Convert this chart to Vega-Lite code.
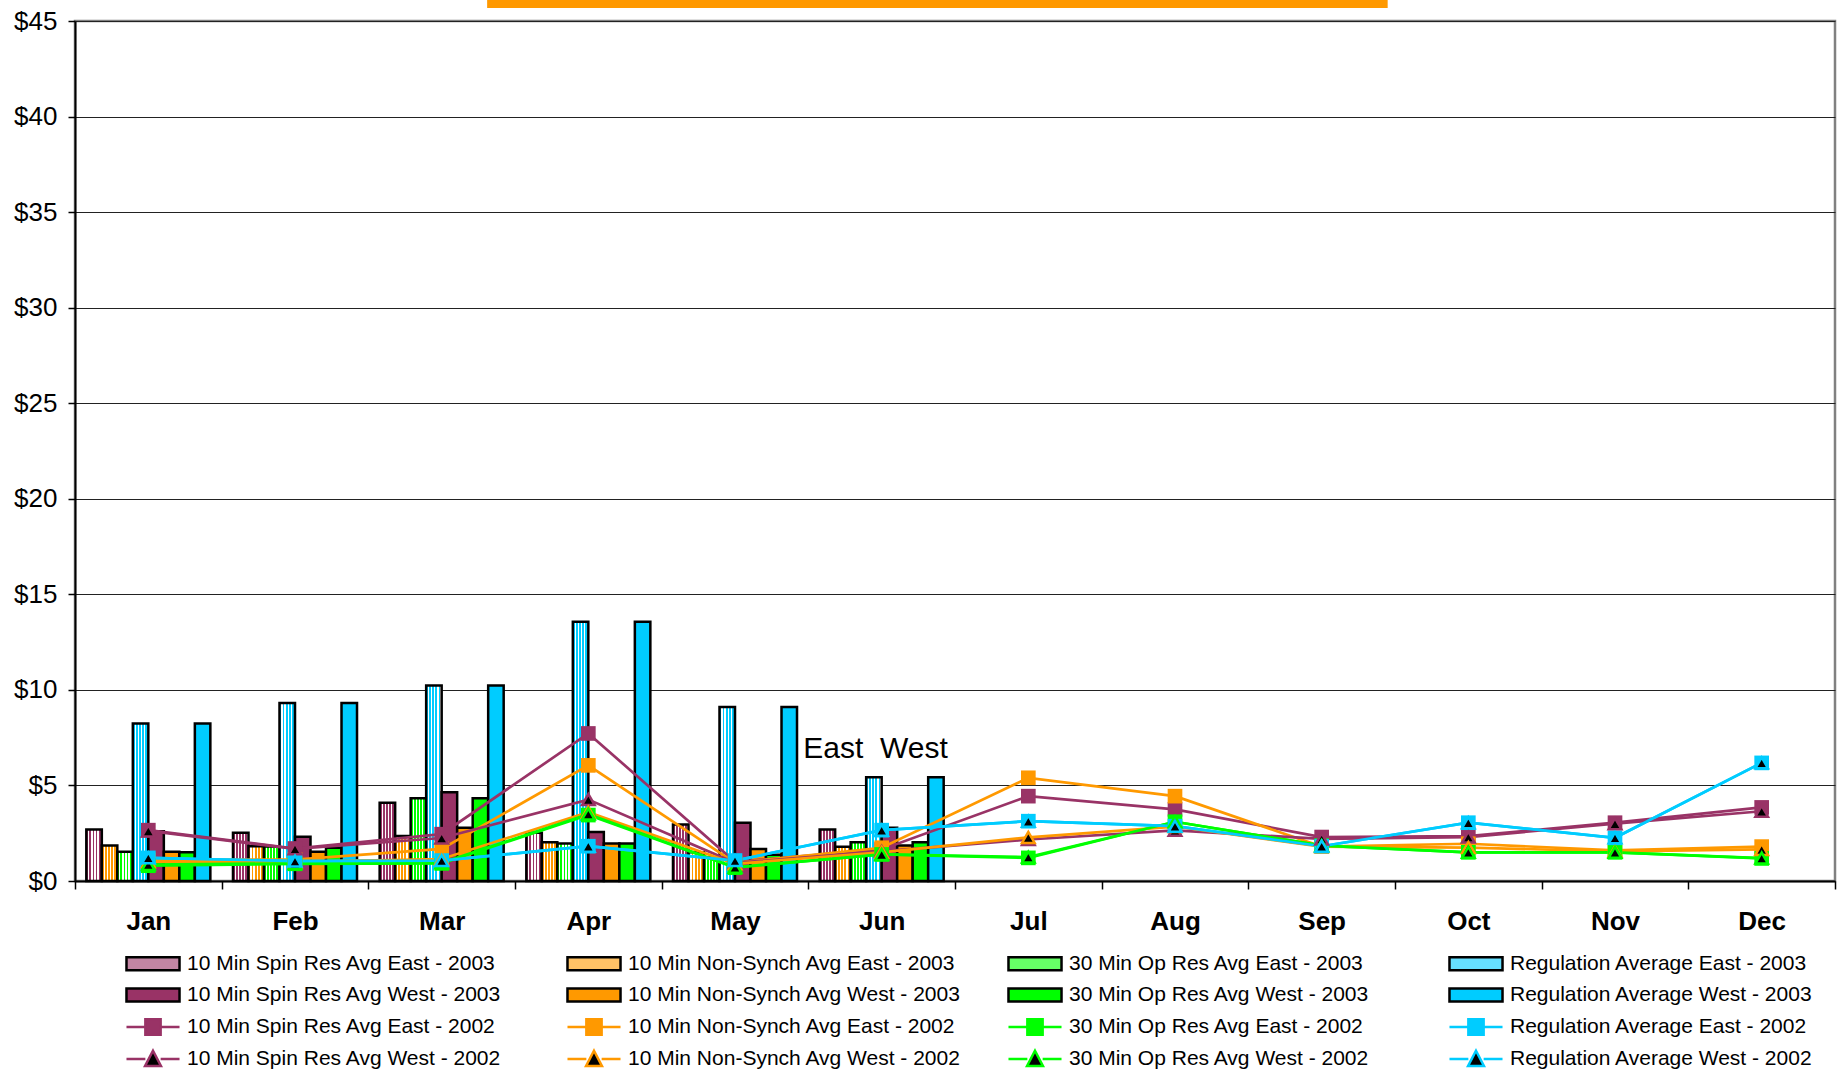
{
  "$schema": "https://vega.github.io/schema/vega-lite/v6.json",
  "width": 1760,
  "height": 860,
  "autosize": {"type": "none"},
  "padding": {"left": 75, "top": 21, "right": 4, "bottom": 188},
  "background": "white",
  "config": {
    "font": "Liberation Sans",
    "view": {"stroke": "#808080", "strokeWidth": 2.5}
  },
  "data": {"values": [
    {"month": "Jan", "series": "10 Min Spin Res Avg East - 2003", "year": 2003, "value": 2.70},
    {"month": "Feb", "series": "10 Min Spin Res Avg East - 2003", "year": 2003, "value": 2.52},
    {"month": "Mar", "series": "10 Min Spin Res Avg East - 2003", "year": 2003, "value": 4.09},
    {"month": "Apr", "series": "10 Min Spin Res Avg East - 2003", "year": 2003, "value": 2.52},
    {"month": "May", "series": "10 Min Spin Res Avg East - 2003", "year": 2003, "value": 2.96},
    {"month": "Jun", "series": "10 Min Spin Res Avg East - 2003", "year": 2003, "value": 2.70},
    {"month": "Jan", "series": "10 Min Non-Synch Avg East - 2003", "year": 2003, "value": 1.86},
    {"month": "Feb", "series": "10 Min Non-Synch Avg East - 2003", "year": 2003, "value": 1.82},
    {"month": "Mar", "series": "10 Min Non-Synch Avg East - 2003", "year": 2003, "value": 2.35},
    {"month": "Apr", "series": "10 Min Non-Synch Avg East - 2003", "year": 2003, "value": 2.03},
    {"month": "May", "series": "10 Min Non-Synch Avg East - 2003", "year": 2003, "value": 1.50},
    {"month": "Jun", "series": "10 Min Non-Synch Avg East - 2003", "year": 2003, "value": 1.79},
    {"month": "Jan", "series": "30 Min Op Res Avg East - 2003", "year": 2003, "value": 1.53},
    {"month": "Feb", "series": "30 Min Op Res Avg East - 2003", "year": 2003, "value": 1.80},
    {"month": "Mar", "series": "30 Min Op Res Avg East - 2003", "year": 2003, "value": 4.33},
    {"month": "Apr", "series": "30 Min Op Res Avg East - 2003", "year": 2003, "value": 1.96},
    {"month": "May", "series": "30 Min Op Res Avg East - 2003", "year": 2003, "value": 1.23},
    {"month": "Jun", "series": "30 Min Op Res Avg East - 2003", "year": 2003, "value": 2.03},
    {"month": "Jan", "series": "Regulation Average East - 2003", "year": 2003, "value": 8.24},
    {"month": "Feb", "series": "Regulation Average East - 2003", "year": 2003, "value": 9.32},
    {"month": "Mar", "series": "Regulation Average East - 2003", "year": 2003, "value": 10.23},
    {"month": "Apr", "series": "Regulation Average East - 2003", "year": 2003, "value": 13.56},
    {"month": "May", "series": "Regulation Average East - 2003", "year": 2003, "value": 9.10},
    {"month": "Jun", "series": "Regulation Average East - 2003", "year": 2003, "value": 5.43},
    {"month": "Jan", "series": "10 Min Spin Res Avg West - 2003", "year": 2003, "value": 2.60},
    {"month": "Feb", "series": "10 Min Spin Res Avg West - 2003", "year": 2003, "value": 2.31},
    {"month": "Mar", "series": "10 Min Spin Res Avg West - 2003", "year": 2003, "value": 4.65},
    {"month": "Apr", "series": "10 Min Spin Res Avg West - 2003", "year": 2003, "value": 2.57},
    {"month": "May", "series": "10 Min Spin Res Avg West - 2003", "year": 2003, "value": 3.05},
    {"month": "Jun", "series": "10 Min Spin Res Avg West - 2003", "year": 2003, "value": 2.78},
    {"month": "Jan", "series": "10 Min Non-Synch Avg West - 2003", "year": 2003, "value": 1.53},
    {"month": "Feb", "series": "10 Min Non-Synch Avg West - 2003", "year": 2003, "value": 1.53},
    {"month": "Mar", "series": "10 Min Non-Synch Avg West - 2003", "year": 2003, "value": 2.78},
    {"month": "Apr", "series": "10 Min Non-Synch Avg West - 2003", "year": 2003, "value": 1.96},
    {"month": "May", "series": "10 Min Non-Synch Avg West - 2003", "year": 2003, "value": 1.68},
    {"month": "Jun", "series": "10 Min Non-Synch Avg West - 2003", "year": 2003, "value": 1.86},
    {"month": "Jan", "series": "30 Min Op Res Avg West - 2003", "year": 2003, "value": 1.50},
    {"month": "Feb", "series": "30 Min Op Res Avg West - 2003", "year": 2003, "value": 1.74},
    {"month": "Mar", "series": "30 Min Op Res Avg West - 2003", "year": 2003, "value": 4.33},
    {"month": "Apr", "series": "30 Min Op Res Avg West - 2003", "year": 2003, "value": 1.96},
    {"month": "May", "series": "30 Min Op Res Avg West - 2003", "year": 2003, "value": 1.37},
    {"month": "Jun", "series": "30 Min Op Res Avg West - 2003", "year": 2003, "value": 2.03},
    {"month": "Jan", "series": "Regulation Average West - 2003", "year": 2003, "value": 8.24},
    {"month": "Feb", "series": "Regulation Average West - 2003", "year": 2003, "value": 9.32},
    {"month": "Mar", "series": "Regulation Average West - 2003", "year": 2003, "value": 10.23},
    {"month": "Apr", "series": "Regulation Average West - 2003", "year": 2003, "value": 13.56},
    {"month": "May", "series": "Regulation Average West - 2003", "year": 2003, "value": 9.10},
    {"month": "Jun", "series": "Regulation Average West - 2003", "year": 2003, "value": 5.43},

    {"month": "Jan", "series": "10 Min Spin Res Avg East - 2002", "year": 2002, "value": 2.66},
    {"month": "Feb", "series": "10 Min Spin Res Avg East - 2002", "year": 2002, "value": 1.70},
    {"month": "Mar", "series": "10 Min Spin Res Avg East - 2002", "year": 2002, "value": 2.45},
    {"month": "Apr", "series": "10 Min Spin Res Avg East - 2002", "year": 2002, "value": 7.72},
    {"month": "May", "series": "10 Min Spin Res Avg East - 2002", "year": 2002, "value": 1.00},
    {"month": "Jun", "series": "10 Min Spin Res Avg East - 2002", "year": 2002, "value": 1.65},
    {"month": "Jul", "series": "10 Min Spin Res Avg East - 2002", "year": 2002, "value": 4.44},
    {"month": "Aug", "series": "10 Min Spin Res Avg East - 2002", "year": 2002, "value": 3.75},
    {"month": "Sep", "series": "10 Min Spin Res Avg East - 2002", "year": 2002, "value": 2.30},
    {"month": "Oct", "series": "10 Min Spin Res Avg East - 2002", "year": 2002, "value": 2.35},
    {"month": "Nov", "series": "10 Min Spin Res Avg East - 2002", "year": 2002, "value": 3.05},
    {"month": "Dec", "series": "10 Min Spin Res Avg East - 2002", "year": 2002, "value": 3.85},
    {"month": "Jan", "series": "10 Min Non-Synch Avg East - 2002", "year": 2002, "value": 1.10},
    {"month": "Feb", "series": "10 Min Non-Synch Avg East - 2002", "year": 2002, "value": 1.12},
    {"month": "Mar", "series": "10 Min Non-Synch Avg East - 2002", "year": 2002, "value": 1.68},
    {"month": "Apr", "series": "10 Min Non-Synch Avg East - 2002", "year": 2002, "value": 6.05},
    {"month": "May", "series": "10 Min Non-Synch Avg East - 2002", "year": 2002, "value": 0.95},
    {"month": "Jun", "series": "10 Min Non-Synch Avg East - 2002", "year": 2002, "value": 1.74},
    {"month": "Jul", "series": "10 Min Non-Synch Avg East - 2002", "year": 2002, "value": 5.40},
    {"month": "Aug", "series": "10 Min Non-Synch Avg East - 2002", "year": 2002, "value": 4.44},
    {"month": "Sep", "series": "10 Min Non-Synch Avg East - 2002", "year": 2002, "value": 1.80},
    {"month": "Oct", "series": "10 Min Non-Synch Avg East - 2002", "year": 2002, "value": 1.95},
    {"month": "Nov", "series": "10 Min Non-Synch Avg East - 2002", "year": 2002, "value": 1.60},
    {"month": "Dec", "series": "10 Min Non-Synch Avg East - 2002", "year": 2002, "value": 1.80},
    {"month": "Jan", "series": "30 Min Op Res Avg East - 2002", "year": 2002, "value": 0.80},
    {"month": "Feb", "series": "30 Min Op Res Avg East - 2002", "year": 2002, "value": 0.90},
    {"month": "Mar", "series": "30 Min Op Res Avg East - 2002", "year": 2002, "value": 0.92},
    {"month": "Apr", "series": "30 Min Op Res Avg East - 2002", "year": 2002, "value": 3.45},
    {"month": "May", "series": "30 Min Op Res Avg East - 2002", "year": 2002, "value": 0.70},
    {"month": "Jun", "series": "30 Min Op Res Avg East - 2002", "year": 2002, "value": 1.39},
    {"month": "Jul", "series": "30 Min Op Res Avg East - 2002", "year": 2002, "value": 1.21},
    {"month": "Aug", "series": "30 Min Op Res Avg East - 2002", "year": 2002, "value": 3.10},
    {"month": "Sep", "series": "30 Min Op Res Avg East - 2002", "year": 2002, "value": 1.85},
    {"month": "Oct", "series": "30 Min Op Res Avg East - 2002", "year": 2002, "value": 1.50},
    {"month": "Nov", "series": "30 Min Op Res Avg East - 2002", "year": 2002, "value": 1.50},
    {"month": "Dec", "series": "30 Min Op Res Avg East - 2002", "year": 2002, "value": 1.18},
    {"month": "Jan", "series": "Regulation Average East - 2002", "year": 2002, "value": 1.21},
    {"month": "Feb", "series": "Regulation Average East - 2002", "year": 2002, "value": 1.04},
    {"month": "Mar", "series": "Regulation Average East - 2002", "year": 2002, "value": 1.07},
    {"month": "Apr", "series": "Regulation Average East - 2002", "year": 2002, "value": 1.82},
    {"month": "May", "series": "Regulation Average East - 2002", "year": 2002, "value": 1.07},
    {"month": "Jun", "series": "Regulation Average East - 2002", "year": 2002, "value": 2.66},
    {"month": "Jul", "series": "Regulation Average East - 2002", "year": 2002, "value": 3.13},
    {"month": "Aug", "series": "Regulation Average East - 2002", "year": 2002, "value": 2.87},
    {"month": "Sep", "series": "Regulation Average East - 2002", "year": 2002, "value": 1.82},
    {"month": "Oct", "series": "Regulation Average East - 2002", "year": 2002, "value": 3.05},
    {"month": "Nov", "series": "Regulation Average East - 2002", "year": 2002, "value": 2.26},
    {"month": "Dec", "series": "Regulation Average East - 2002", "year": 2002, "value": 6.18},
    {"month": "Jan", "series": "10 Min Spin Res Avg West - 2002", "year": 2002, "value": 2.62},
    {"month": "Feb", "series": "10 Min Spin Res Avg West - 2002", "year": 2002, "value": 1.68},
    {"month": "Mar", "series": "10 Min Spin Res Avg West - 2002", "year": 2002, "value": 2.25},
    {"month": "Apr", "series": "10 Min Spin Res Avg West - 2002", "year": 2002, "value": 4.26},
    {"month": "May", "series": "10 Min Spin Res Avg West - 2002", "year": 2002, "value": 0.95},
    {"month": "Jun", "series": "10 Min Spin Res Avg West - 2002", "year": 2002, "value": 1.55},
    {"month": "Jul", "series": "10 Min Spin Res Avg West - 2002", "year": 2002, "value": 2.17},
    {"month": "Aug", "series": "10 Min Spin Res Avg West - 2002", "year": 2002, "value": 2.65},
    {"month": "Sep", "series": "10 Min Spin Res Avg West - 2002", "year": 2002, "value": 2.20},
    {"month": "Oct", "series": "10 Min Spin Res Avg West - 2002", "year": 2002, "value": 2.30},
    {"month": "Nov", "series": "10 Min Spin Res Avg West - 2002", "year": 2002, "value": 3.00},
    {"month": "Dec", "series": "10 Min Spin Res Avg West - 2002", "year": 2002, "value": 3.65},
    {"month": "Jan", "series": "10 Min Non-Synch Avg West - 2002", "year": 2002, "value": 1.00},
    {"month": "Feb", "series": "10 Min Non-Synch Avg West - 2002", "year": 2002, "value": 1.00},
    {"month": "Mar", "series": "10 Min Non-Synch Avg West - 2002", "year": 2002, "value": 1.15},
    {"month": "Apr", "series": "10 Min Non-Synch Avg West - 2002", "year": 2002, "value": 3.60},
    {"month": "May", "series": "10 Min Non-Synch Avg West - 2002", "year": 2002, "value": 0.90},
    {"month": "Jun", "series": "10 Min Non-Synch Avg West - 2002", "year": 2002, "value": 1.50},
    {"month": "Jul", "series": "10 Min Non-Synch Avg West - 2002", "year": 2002, "value": 2.28},
    {"month": "Aug", "series": "10 Min Non-Synch Avg West - 2002", "year": 2002, "value": 2.85},
    {"month": "Sep", "series": "10 Min Non-Synch Avg West - 2002", "year": 2002, "value": 1.80},
    {"month": "Oct", "series": "10 Min Non-Synch Avg West - 2002", "year": 2002, "value": 1.75},
    {"month": "Nov", "series": "10 Min Non-Synch Avg West - 2002", "year": 2002, "value": 1.55},
    {"month": "Dec", "series": "10 Min Non-Synch Avg West - 2002", "year": 2002, "value": 1.65},
    {"month": "Jan", "series": "30 Min Op Res Avg West - 2002", "year": 2002, "value": 0.86},
    {"month": "Feb", "series": "30 Min Op Res Avg West - 2002", "year": 2002, "value": 0.92},
    {"month": "Mar", "series": "30 Min Op Res Avg West - 2002", "year": 2002, "value": 0.95},
    {"month": "Apr", "series": "30 Min Op Res Avg West - 2002", "year": 2002, "value": 3.50},
    {"month": "May", "series": "30 Min Op Res Avg West - 2002", "year": 2002, "value": 0.72},
    {"month": "Jun", "series": "30 Min Op Res Avg West - 2002", "year": 2002, "value": 1.39},
    {"month": "Jul", "series": "30 Min Op Res Avg West - 2002", "year": 2002, "value": 1.25},
    {"month": "Aug", "series": "30 Min Op Res Avg West - 2002", "year": 2002, "value": 3.10},
    {"month": "Sep", "series": "30 Min Op Res Avg West - 2002", "year": 2002, "value": 1.85},
    {"month": "Oct", "series": "30 Min Op Res Avg West - 2002", "year": 2002, "value": 1.50},
    {"month": "Nov", "series": "30 Min Op Res Avg West - 2002", "year": 2002, "value": 1.50},
    {"month": "Dec", "series": "30 Min Op Res Avg West - 2002", "year": 2002, "value": 1.20},
    {"month": "Jan", "series": "Regulation Average West - 2002", "year": 2002, "value": 1.21},
    {"month": "Feb", "series": "Regulation Average West - 2002", "year": 2002, "value": 1.04},
    {"month": "Mar", "series": "Regulation Average West - 2002", "year": 2002, "value": 1.07},
    {"month": "Apr", "series": "Regulation Average West - 2002", "year": 2002, "value": 1.82},
    {"month": "May", "series": "Regulation Average West - 2002", "year": 2002, "value": 1.07},
    {"month": "Jun", "series": "Regulation Average West - 2002", "year": 2002, "value": 2.66},
    {"month": "Jul", "series": "Regulation Average West - 2002", "year": 2002, "value": 3.13},
    {"month": "Aug", "series": "Regulation Average West - 2002", "year": 2002, "value": 2.87},
    {"month": "Sep", "series": "Regulation Average West - 2002", "year": 2002, "value": 1.82},
    {"month": "Oct", "series": "Regulation Average West - 2002", "year": 2002, "value": 3.05},
    {"month": "Nov", "series": "Regulation Average West - 2002", "year": 2002, "value": 2.26},
    {"month": "Dec", "series": "Regulation Average West - 2002", "year": 2002, "value": 6.18}
  ]},
  "layer": [
    {
      "layer": [
        {
          "transform": [{"filter": "datum.year == 2003"}],
          "mark": {"type": "bar", "stroke": "black", "strokeWidth": 2.5, "opacity": 1},
          "encoding": {
            "x": {
              "field": "month", "type": "nominal",
              "scale": {"domain": ["Jan","Feb","Mar","Apr","May","Jun","Jul","Aug","Sep","Oct","Nov","Dec"], "paddingInner": 0, "paddingOuter": 0},
              "axis": {"title": null, "labelAngle": 0, "labelFontSize": 26, "labelFontWeight": "bold", "labelColor": "black", "labelFont": "Liberation Sans", "tickBand": "extent", "tickSize": 8, "tickColor": "black", "tickWidth": 1.5, "domainColor": "black", "domainWidth": 2, "labelPadding": 19, "grid": false}
            },
            "xOffset": {
              "field": "series", "type": "nominal",
              "scale": {"domain": ["10 Min Spin Res Avg East - 2003","10 Min Non-Synch Avg East - 2003","30 Min Op Res Avg East - 2003","Regulation Average East - 2003","10 Min Spin Res Avg West - 2003","10 Min Non-Synch Avg West - 2003","30 Min Op Res Avg West - 2003","Regulation Average West - 2003"], "paddingInner": 0, "paddingOuter": 0.73}
            },
            "y": {
              "field": "value", "type": "quantitative",
              "scale": {"domain": [0, 45], "nice": false},
              "axis": {"title": null, "values": [0,5,10,15,20,25,30,35,40,45], "format": "$.0f", "labelFontSize": 26, "labelColor": "black", "labelFont": "Liberation Sans", "labelPadding": 11, "tickSize": 7, "tickColor": "black", "tickWidth": 1.5, "domainColor": "black", "domainWidth": 2, "grid": true, "gridColor": "#222222", "gridWidth": 1}
            },
            "color": {
              "field": "series", "type": "nominal",
              "legend": null,
              "condition": [
                {"test": "datum.series === '10 Min Spin Res Avg East - 2003'", "value": {"gradient": "linear", "x1": 0, "y1": 0, "x2": 1, "y2": 0, "stops": [{"offset":0,"color":"#993366"},{"offset":0.12,"color":"#993366"},{"offset":0.12,"color":"#ffffff"},{"offset":0.2,"color":"#ffffff"},{"offset":0.2,"color":"#993366"},{"offset":0.32,"color":"#993366"},{"offset":0.32,"color":"#ffffff"},{"offset":0.4,"color":"#ffffff"},{"offset":0.4,"color":"#993366"},{"offset":0.52,"color":"#993366"},{"offset":0.52,"color":"#ffffff"},{"offset":0.6,"color":"#ffffff"},{"offset":0.6,"color":"#993366"},{"offset":0.72,"color":"#993366"},{"offset":0.72,"color":"#ffffff"},{"offset":0.8,"color":"#ffffff"},{"offset":0.8,"color":"#993366"},{"offset":0.92,"color":"#993366"},{"offset":0.92,"color":"#ffffff"},{"offset":1,"color":"#ffffff"}]}},
                {"test": "datum.series === '10 Min Non-Synch Avg East - 2003'", "value": {"gradient": "linear", "x1": 0, "y1": 0, "x2": 1, "y2": 0, "stops": [{"offset":0,"color":"#FF9900"},{"offset":0.12,"color":"#FF9900"},{"offset":0.12,"color":"#ffffff"},{"offset":0.2,"color":"#ffffff"},{"offset":0.2,"color":"#FF9900"},{"offset":0.32,"color":"#FF9900"},{"offset":0.32,"color":"#ffffff"},{"offset":0.4,"color":"#ffffff"},{"offset":0.4,"color":"#FF9900"},{"offset":0.52,"color":"#FF9900"},{"offset":0.52,"color":"#ffffff"},{"offset":0.6,"color":"#ffffff"},{"offset":0.6,"color":"#FF9900"},{"offset":0.72,"color":"#FF9900"},{"offset":0.72,"color":"#ffffff"},{"offset":0.8,"color":"#ffffff"},{"offset":0.8,"color":"#FF9900"},{"offset":0.92,"color":"#FF9900"},{"offset":0.92,"color":"#ffffff"},{"offset":1,"color":"#ffffff"}]}},
                {"test": "datum.series === '30 Min Op Res Avg East - 2003'", "value": {"gradient": "linear", "x1": 0, "y1": 0, "x2": 1, "y2": 0, "stops": [{"offset":0,"color":"#00FF00"},{"offset":0.12,"color":"#00FF00"},{"offset":0.12,"color":"#ffffff"},{"offset":0.2,"color":"#ffffff"},{"offset":0.2,"color":"#00FF00"},{"offset":0.32,"color":"#00FF00"},{"offset":0.32,"color":"#ffffff"},{"offset":0.4,"color":"#ffffff"},{"offset":0.4,"color":"#00FF00"},{"offset":0.52,"color":"#00FF00"},{"offset":0.52,"color":"#ffffff"},{"offset":0.6,"color":"#ffffff"},{"offset":0.6,"color":"#00FF00"},{"offset":0.72,"color":"#00FF00"},{"offset":0.72,"color":"#ffffff"},{"offset":0.8,"color":"#ffffff"},{"offset":0.8,"color":"#00FF00"},{"offset":0.92,"color":"#00FF00"},{"offset":0.92,"color":"#ffffff"},{"offset":1,"color":"#ffffff"}]}},
                {"test": "datum.series === 'Regulation Average East - 2003'", "value": {"gradient": "linear", "x1": 0, "y1": 0, "x2": 1, "y2": 0, "stops": [{"offset":0,"color":"#00CCFF"},{"offset":0.12,"color":"#00CCFF"},{"offset":0.12,"color":"#ffffff"},{"offset":0.2,"color":"#ffffff"},{"offset":0.2,"color":"#00CCFF"},{"offset":0.32,"color":"#00CCFF"},{"offset":0.32,"color":"#ffffff"},{"offset":0.4,"color":"#ffffff"},{"offset":0.4,"color":"#00CCFF"},{"offset":0.52,"color":"#00CCFF"},{"offset":0.52,"color":"#ffffff"},{"offset":0.6,"color":"#ffffff"},{"offset":0.6,"color":"#00CCFF"},{"offset":0.72,"color":"#00CCFF"},{"offset":0.72,"color":"#ffffff"},{"offset":0.8,"color":"#ffffff"},{"offset":0.8,"color":"#00CCFF"},{"offset":0.92,"color":"#00CCFF"},{"offset":0.92,"color":"#ffffff"},{"offset":1,"color":"#ffffff"}]}}
              ],
              "scale": {
                "domain": ["10 Min Spin Res Avg East - 2003","10 Min Spin Res Avg West - 2003","10 Min Spin Res Avg East - 2002","10 Min Spin Res Avg West - 2002","10 Min Non-Synch Avg East - 2003","10 Min Non-Synch Avg West - 2003","10 Min Non-Synch Avg East - 2002","10 Min Non-Synch Avg West - 2002","30 Min Op Res Avg East - 2003","30 Min Op Res Avg West - 2003","30 Min Op Res Avg East - 2002","30 Min Op Res Avg West - 2002","Regulation Average East - 2003","Regulation Average West - 2003","Regulation Average East - 2002","Regulation Average West - 2002"],
                "range": ["#993366","#993366","#993366","#993366","#FF9900","#FF9900","#FF9900","#FF9900","#00FF00","#00FF00","#00FF00","#00FF00","#00CCFF","#00CCFF","#00CCFF","#00CCFF"]
              }
            }
          }
        },
        {
          "transform": [{"filter": "datum.year == 2002"}],
          "mark": {"type": "line", "strokeWidth": 2.7},
          "encoding": {
            "x": {"field": "month", "type": "nominal"},
            "y": {"field": "value", "type": "quantitative"},
            "color": {"field": "series", "type": "nominal", "legend": null},
            "order": {"value": null}
          }
        },
        {
          "transform": [{"filter": "datum.year == 2002 && test(/East/, datum.series)"}],
          "mark": {"type": "point", "shape": "square", "filled": true, "size": 215, "opacity": 1},
          "encoding": {
            "x": {"field": "month", "type": "nominal"},
            "y": {"field": "value", "type": "quantitative"},
            "color": {"field": "series", "type": "nominal", "legend": null}
          }
        },
        {
          "transform": [{"filter": "datum.year == 2002 && test(/West/, datum.series)"}],
          "mark": {"type": "point", "shape": "triangle-up", "filled": false, "fill": "black", "strokeWidth": 2.5, "size": 160, "opacity": 1},
          "encoding": {
            "x": {"field": "month", "type": "nominal"},
            "y": {"field": "value", "type": "quantitative"},
            "color": {"field": "series", "type": "nominal", "legend": null}
          }
        },
        {
          "mark": {"type": "point", "filled": true, "opacity": 0},
          "encoding": {
            "x": {"field": "month", "type": "nominal"},
            "y": {"field": "value", "type": "quantitative"},
            "fill": {
              "field": "series", "type": "nominal",
              "scale": {
                "domain": ["10 Min Spin Res Avg East - 2003","10 Min Non-Synch Avg East - 2003","30 Min Op Res Avg East - 2003","Regulation Average East - 2003","10 Min Spin Res Avg West - 2003","10 Min Non-Synch Avg West - 2003","30 Min Op Res Avg West - 2003","Regulation Average West - 2003","10 Min Spin Res Avg East - 2002","10 Min Non-Synch Avg East - 2002","30 Min Op Res Avg East - 2002","Regulation Average East - 2002","10 Min Spin Res Avg West - 2002","10 Min Non-Synch Avg West - 2002","30 Min Op Res Avg West - 2002","Regulation Average West - 2002"],
                "range": ["#C285A3","#FFC266","#66FF66","#66E0FF","#993366","#FF9900","#00FF00","#00CCFF","#993366","#FF9900","#00FF00","#00CCFF","#000000","#000000","#000000","#000000"]
              }
            },
            "stroke": {
              "field": "series", "type": "nominal",
              "scale": {
                "domain": ["10 Min Spin Res Avg East - 2003","10 Min Non-Synch Avg East - 2003","30 Min Op Res Avg East - 2003","Regulation Average East - 2003","10 Min Spin Res Avg West - 2003","10 Min Non-Synch Avg West - 2003","30 Min Op Res Avg West - 2003","Regulation Average West - 2003","10 Min Spin Res Avg East - 2002","10 Min Non-Synch Avg East - 2002","30 Min Op Res Avg East - 2002","Regulation Average East - 2002","10 Min Spin Res Avg West - 2002","10 Min Non-Synch Avg West - 2002","30 Min Op Res Avg West - 2002","Regulation Average West - 2002"],
                "range": ["#000000","#000000","#000000","#000000","#000000","#000000","#000000","#000000","#993366","#FF9900","#00FF00","#00CCFF","#993366","#FF9900","#00FF00","#00CCFF"]
              }
            },
            "shape": {
              "field": "series", "type": "nominal",
              "scale": {
                "domain": ["10 Min Spin Res Avg East - 2003","10 Min Non-Synch Avg East - 2003","30 Min Op Res Avg East - 2003","Regulation Average East - 2003","10 Min Spin Res Avg West - 2003","10 Min Non-Synch Avg West - 2003","30 Min Op Res Avg West - 2003","Regulation Average West - 2003","10 Min Spin Res Avg East - 2002","10 Min Non-Synch Avg East - 2002","30 Min Op Res Avg East - 2002","Regulation Average East - 2002","10 Min Spin Res Avg West - 2002","10 Min Non-Synch Avg West - 2002","30 Min Op Res Avg West - 2002","Regulation Average West - 2002"],
                "range": ["M-2.5,-0.62H2.5V0.62H-2.5Z","M-2.5,-0.62H2.5V0.62H-2.5Z","M-2.5,-0.62H2.5V0.62H-2.5Z","M-2.5,-0.62H2.5V0.62H-2.5Z","M-2.5,-0.62H2.5V0.62H-2.5Z","M-2.5,-0.62H2.5V0.62H-2.5Z","M-2.5,-0.62H2.5V0.62H-2.5Z","M-2.5,-0.62H2.5V0.62H-2.5Z","M-2.5,0H-0.72M0.72,0H2.5M-0.72,-0.72H0.72V0.72H-0.72Z","M-2.5,0H-0.72M0.72,0H2.5M-0.72,-0.72H0.72V0.72H-0.72Z","M-2.5,0H-0.72M0.72,0H2.5M-0.72,-0.72H0.72V0.72H-0.72Z","M-2.5,0H-0.72M0.72,0H2.5M-0.72,-0.72H0.72V0.72H-0.72Z","M-2.5,0H-0.72M0.72,0H2.5M0,-0.78L0.75,0.66H-0.75Z","M-2.5,0H-0.72M0.72,0H2.5M0,-0.78L0.75,0.66H-0.75Z","M-2.5,0H-0.72M0.72,0H2.5M0,-0.78L0.75,0.66H-0.75Z","M-2.5,0H-0.72M0.72,0H2.5M0,-0.78L0.75,0.66H-0.75Z"]
              },
              "legend": {
                "title": null,
                "orient": "none",
                "legendX": 66,
                "legendY": 930,
                "direction": "horizontal",
                "columns": 4,
                "gridAlign": "all",
                "columnPadding": 41,
                "rowPadding": 5,
                "symbolSize": 450,
                "symbolStrokeWidth": 2.5,
                "symbolOpacity": 1,
                "labelFontSize": 21,
                "labelFont": "Liberation Sans",
                "labelColor": "black",
                "labelOffset": 22,
                "labelLimit": 430
              }
            }
          }
        },
        {
          "data": {"values": [{"month": "Jun", "label": "East\u00a0\u00a0West", "value": 6.93}]},
          "mark": {"type": "text", "align": "left", "baseline": "middle", "fontSize": 30, "font": "Liberation Sans", "color": "black", "dx": -5},
          "encoding": {
            "x": {"field": "month", "type": "nominal", "bandPosition": 0},
            "y": {"field": "value", "type": "quantitative"},
            "text": {"field": "label"}
          }
        }
      ]
    },
    {
      "data": {"values": [{"start": 2.81, "end": 8.95, "low": 45.68, "high": 46.6}]},
      "mark": {"type": "rect", "color": "#FF9900"},
      "encoding": {
        "x": {"field": "start", "type": "quantitative", "scale": {"domain": [0, 12]}, "axis": null},
        "x2": {"field": "end"},
        "y": {"field": "low", "type": "quantitative"},
        "y2": {"field": "high"}
      }
    }
  ],
  "resolve": {"scale": {"x": "independent"}}
}
